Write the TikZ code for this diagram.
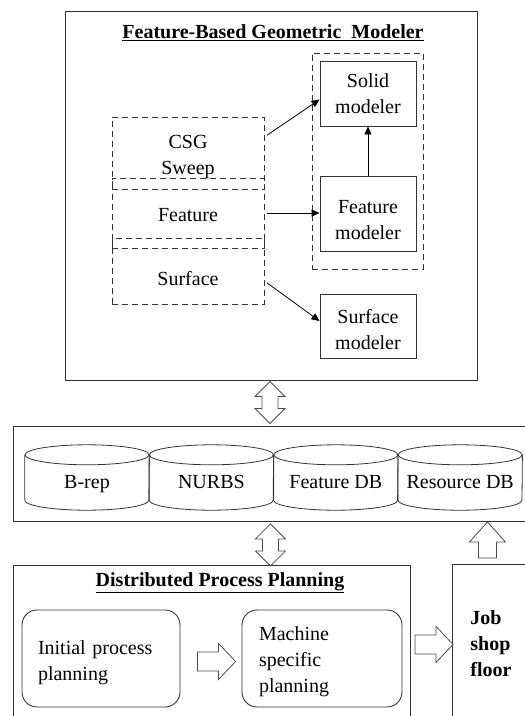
\documentclass[tikz,border=0pt]{standalone}
\usepackage{fontspec}
\setmainfont{Liberation Serif}
\usetikzlibrary{arrows.meta,positioning,calc}
\tikzset{%
  box/.style={draw=black!80,line width=0.9pt,align=center,inner sep=0pt},
  dbox/.style={box,dash pattern=on 6pt off 4pt},
  arrow/.style={-{Triangle[length=8pt,width=7pt]},line width=0.8pt,shorten <=3pt},
  hollow/.style={draw=black!70,line width=0.8pt,fill=white,line join=miter},
  updown/.pic={\draw[hollow] (0,0) -- (15,15) -- (8,15) -- (8,27) -- (15,27) -- (0,42)
    -- (-15,27) -- (-8,27) -- (-8,15) -- (-15,15) -- cycle;},
  upblock/.pic={\draw[hollow] (0,0) -- (18,20) -- (9,20) -- (9,36) -- (-9,36) -- (-9,20)
    -- (-18,20) -- cycle;},
  rightblock/.pic={\draw[hollow] (0,0) -- (-17,18) -- (-17,9.5) -- (-38,9.5) -- (-38,-9.5)
    -- (-17,-9.5) -- (-17,-18) -- cycle;}%
}

\begin{document}
\begin{tikzpicture}[
    x=1pt, y=-1pt,
    font=\fontsize{20}{26}\selectfont,
    title/.style={font=\fontsize{20}{26}\selectfont\bfseries},
    dbcyl/.style={
        minimum width=124pt,
        minimum height=65pt,
        text height=26pt,
        text depth=4pt,
        inner sep=0pt
    },
    cyl/.style={draw=black!80,line width=0.8pt},
    rbox/.style={
        box,
        rounded corners=15pt,
        align=left,
        text width=126pt,
        inner xsep=16pt,
        minimum height=97pt
    }
]
\useasboundingbox (0,0) rectangle (525,716);
\clip (0,0) rectangle (525,716);

% Feature-based geometric modeler
\node[box,minimum width=412pt,minimum height=369pt] (fbgm) at (271,195.5) {};
\node[title] (fbgmtitle) at (273,33) {\underline{Feature-Based Geometric\ \ Modeler}};

% modelers (right column)
\node[dbox,minimum width=111pt,minimum height=216pt] (modgrp) at (367.5,161) {};
\node[box,minimum width=96pt,minimum height=65pt] (solid) at (368,93.5) {Solid\\modeler};
\node[box,minimum width=96pt,minimum height=75pt,text height=52pt] (featmod) at (368,213.5) {Feature\\modeler};
\node[box,minimum width=96pt,minimum height=64pt,text height=48pt] (surfmod) at (368,326) {Surface\\modeler};

% representations (left column, overlapping)
\node[dbox,minimum width=152pt,minimum height=72pt,text height=48pt] (csg) at (188,153) {CSG\\Sweep};
\node[dbox,minimum width=152pt,minimum height=70pt,text height=18pt] (feat) at (188,213) {Feature};
\node[dbox,minimum width=152pt,minimum height=66pt,text height=30pt] (surf) at (188,271) {Surface};

% Connections
\draw[arrow] ([yshift=16pt]csg.east) -- ([yshift=-6pt]solid.west);
\draw[arrow] (feat.east) -- (feat.east -| featmod.west);
\draw[arrow] ([yshift=-10pt]surf.east) -- ([yshift=5pt]surfmod.west);
\draw[arrow,shorten <=0pt] (featmod.north) -- (solid.south);

% Databases
\node[box,anchor=north west,minimum width=520pt,minimum height=95pt] (db) at (13,426) {};
\node[dbcyl] (brep) at (87,477.5) {B-rep};
\node[dbcyl,right=0pt of brep] (nurbs) {NURBS};
\node[dbcyl,right=0pt of nurbs] (featdb) {Feature DB};
\node[dbcyl,right=0pt of featdb] (resdb) {Resource DB};
\foreach \c in {brep,nurbs,featdb,resdb}{
  \draw[cyl] ($(\c.north)+(0,10)$) ellipse [x radius=62, y radius=10];
  \draw[cyl] ($(\c.north west)+(0,10)$) -- ($(\c.south west)+(0,-10)$)
    arc[start angle=180, end angle=0, x radius=62, y radius=10]
    -- ($(\c.north east)+(0,10)$);
}

% Distributed process planning
\node[box,anchor=north west,minimum width=397pt,minimum height=160pt] (dpp) at (13,565) {};
\node[title] (dpptitle) at (220,583) {\underline{Distributed Process Planning}};
\node[rbox,minimum width=158pt,text height=22pt] (ipp) at (101,658.5) {Initial process\\planning};
\node[rbox,minimum width=160pt,text height=20pt] (msp) at (322,658.5) {Machine\\specific\\planning};

% Job shop
\node[box,title,anchor=north west,minimum width=100pt,minimum height=158pt,
      text width=64pt,align=left,inner xsep=18pt] (job) at (452,564) {Job\\shop\\floor};

% block arrows
\pic at ($(fbgm.south)+(-1,1)$) {updown};
\pic at ($(db.south)+(-3,2)$) {updown};
\pic at ($(job.north)+(-15,-42)$) {upblock};
\pic at ($(msp.west)+(-6,3)$) {rightblock};
\pic at ($(job.west)+(1,1)$) {rightblock};

\end{tikzpicture}
\end{document}
